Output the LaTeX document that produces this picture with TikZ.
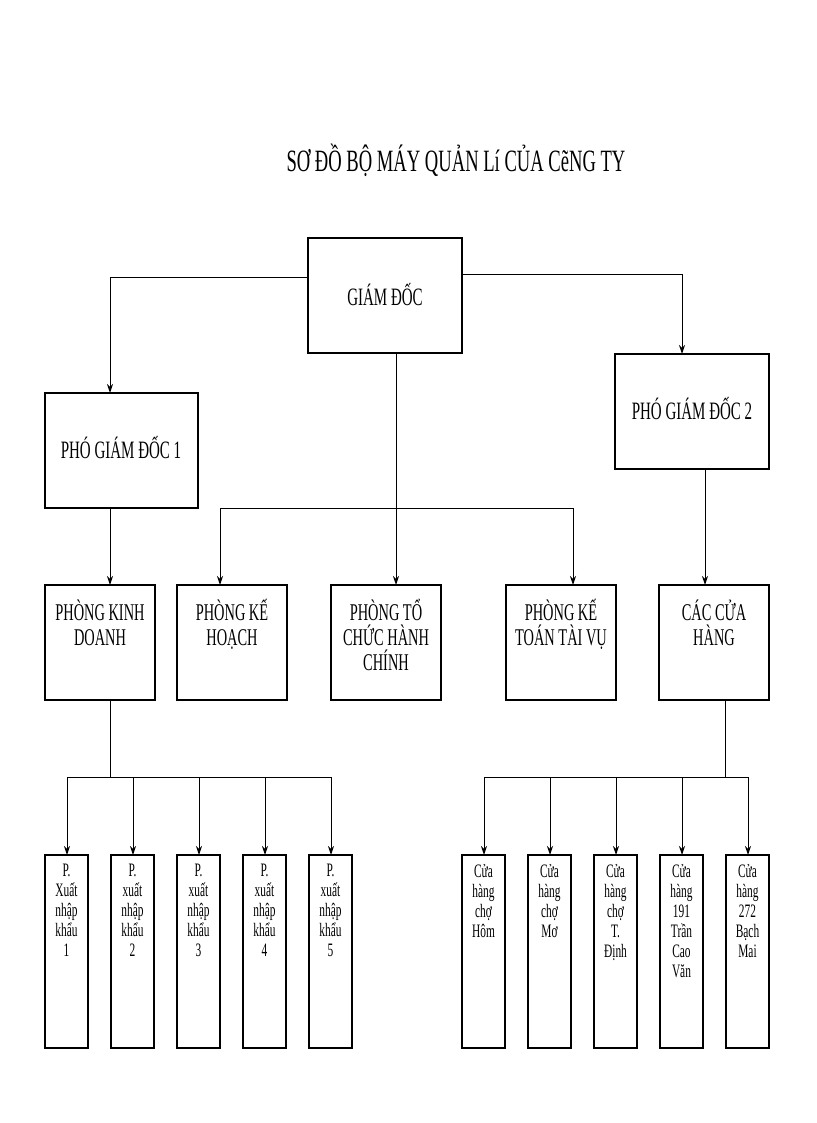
\documentclass[tikz,border=0pt]{standalone}
\usepackage{fontspec}
\setmainfont{Liberation Serif}[FakeStretch=0.6]
\usetikzlibrary{arrows.meta}
\begin{document}
\begin{tikzpicture}[x=1pt,y=-1pt,
 con/.style={line width=1pt},
 arr/.style={line width=1pt,-{Stealth[length=9pt,width=6pt]}},
 tt/.style={align=center,font=\fontsize{24}{25}\selectfont,anchor=north},
 st/.style={align=center,font=\fontsize{19}{20}\selectfont,anchor=north}]
\useasboundingbox (0,0) rectangle (816,1123);
\node[font=\fontsize{31}{32}\selectfont] (title) at (456,160) {SƠ ĐỒ BỘ MÁY QUẢN Lí CỦA CẽNG TY};
% boxes
\draw[line width=1.2pt] (308,238) rectangle (462,353);
\node[font=\fontsize{25}{26}\selectfont] (gdt) at (385,295) {GIÁM ĐỐC};
\draw[line width=1.2pt] (45,393) rectangle (198,508);
\node[font=\fontsize{25}{26}\selectfont] (p1) at (121,448) {PHÓ GIÁM ĐỐC 1};
\draw[line width=1.2pt] (615,354) rectangle (769,469);
\node[font=\fontsize{25}{26}\selectfont] (p2) at (692,409) {PHÓ GIÁM ĐỐC 2};
\foreach \a/\b/\t in {45/155/{PHÒNG KINH\\DOANH},177/287/{PHÒNG KẾ\\HOẠCH},331/441/{PHÒNG TỔ\\CHỨC HÀNH\\CHÍNH},506/616/{PHÒNG KẾ\\TOÁN TÀI VỤ},659/769/{CÁC CỬA\\HÀNG}}{
 \draw[line width=1.2pt] (\a,585) rectangle (\b,700);
 \node[tt] at ({(\a+\b)/2},596) {\t};}
\foreach \a/\t in {45/{P.\\Xuất\\nhập\\khẩu\\1},111/{P.\\xuất\\nhập\\khẩu\\2},177/{P.\\xuất\\nhập\\khẩu\\3},243/{P.\\xuất\\nhập\\khẩu\\4},309/{P.\\xuất\\nhập\\khẩu\\5},462/{Cửa\\hàng\\chợ\\Hôm},528/{Cửa\\hàng\\chợ\\Mơ},594/{Cửa\\hàng\\chợ\\T.\\Định},660/{Cửa\\hàng\\191\\Trần\\Cao\\Văn},726/{Cửa\\hàng\\272\\Bạch\\Mai}}{
 \draw[line width=1.2pt] (\a,855) rectangle ({\a+43},1048);
 \node[st] at ({\a+21.5},861) {\t};}
% connectors
\draw[arr] (308,277) -| (110,393);
\draw[arr] (462,274) -| (682,354);
\draw[arr] (396,353) -- (396,585);
\draw[con] (220,508) -- (573,508);
\draw[arr] (220,508) -- (220,585);
\draw[arr] (573,508) -- (573,585);
\draw[arr] (110,508) -- (110,585);
\draw[arr] (705,469) -- (705,585);
\draw[con] (110,700) -- (110,777);
\draw[con] (67,777) -- (331,777);
\foreach \x in {67,133,199,265,331} \draw[arr] (\x,777) -- (\x,855);
\draw[con] (725,700) -- (725,777);
\draw[con] (484,777) -- (748,777);
\foreach \x in {484,550,616,682,748} \draw[arr] (\x,777) -- (\x,855);
\end{tikzpicture}
\end{document}
